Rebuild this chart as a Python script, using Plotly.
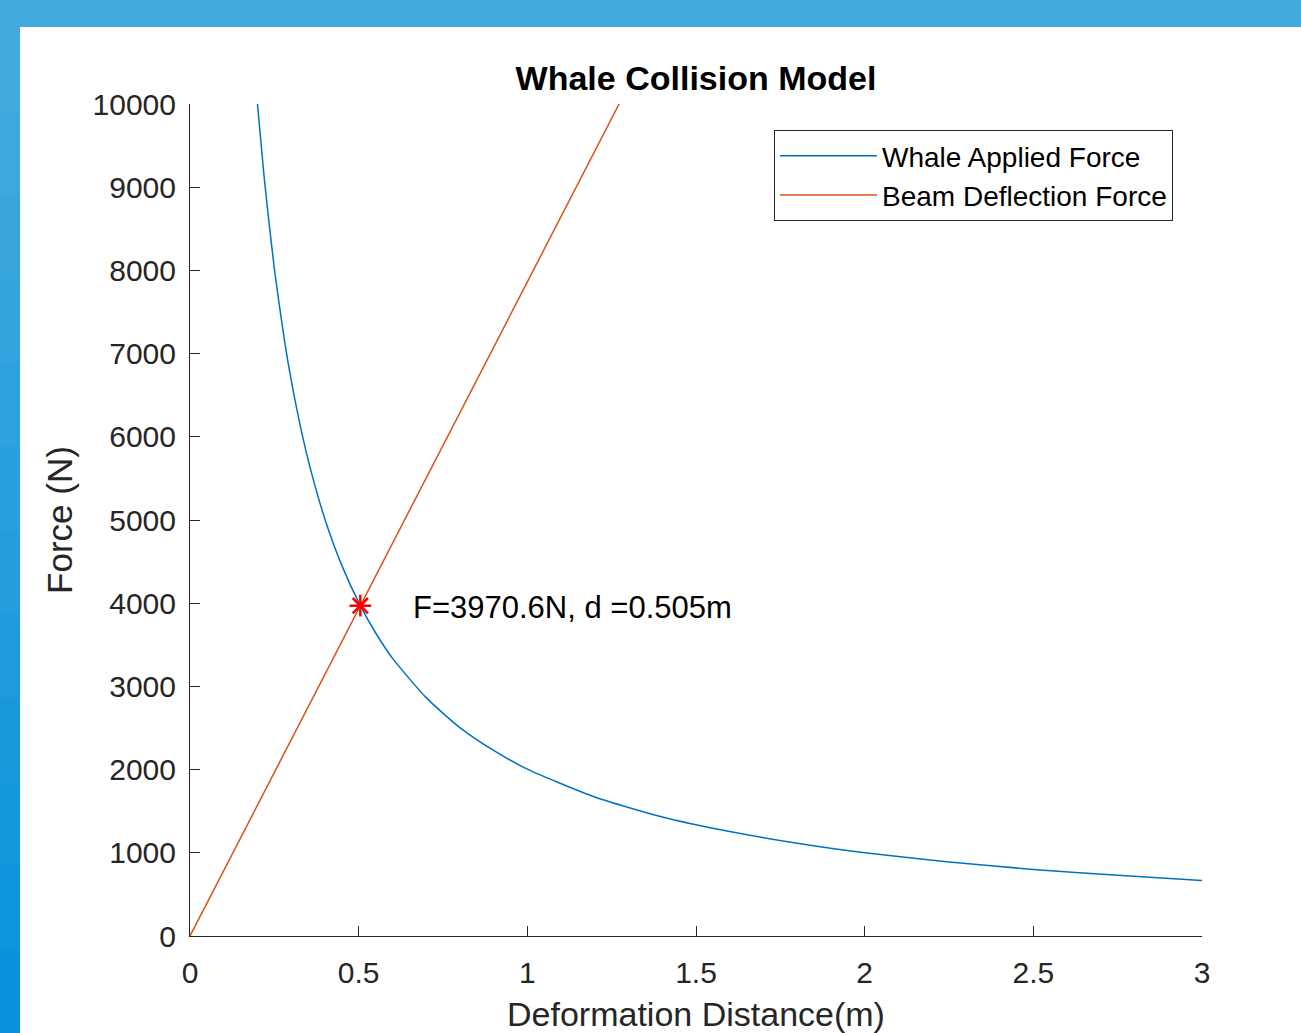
import plotly.graph_objects as go

# Whale Applied Force
whale_d = [0.2, 0.22, 0.25, 0.28, 0.3, 0.33, 0.36, 0.4, 0.45, 0.505, 0.55, 0.6, 0.7, 0.8,
           0.9, 1.0, 1.2, 1.4, 1.6, 1.8, 2.0, 2.25, 2.5, 2.75, 3.0]
whale_f = [10000, 9110, 8020, 7160, 6680, 6075, 5570, 5010, 4455, 3970, 3645, 3340, 2865, 2505,
           2230, 2005, 1670, 1430, 1255, 1115, 1000, 890, 800, 730, 668]

# Beam Deflection Force
beam_d = [0.0, 0.505, 1.272]
beam_f = [0, 3970, 10000]

# Intersection point
pt_d = [0.505]
pt_f = [3970.6]
label_text = "F=3970.6N, d =0.505m"
label_pos = (0.655, 3954)

x_ticks = [0, 0.5, 1, 1.5, 2, 2.5, 3]
x_ticklabels = ["0", "0.5", "1", "1.5", "2", "2.5", "3"]
y_ticks = [0, 1000, 2000, 3000, 4000, 5000, 6000, 7000, 8000, 9000, 10000]
y_ticklabels = [str(v) for v in y_ticks]

FONT = "Liberation Sans, Arial, Helvetica, sans-serif"
AX = "#262626"

fig = go.Figure()
fig.add_trace(go.Scatter(x=whale_d, y=whale_f, mode="lines", name="Whale Applied Force",
                         line=dict(color="#0072BD", width=1.5, shape="spline", smoothing=0.6)))
fig.add_trace(go.Scatter(x=beam_d, y=beam_f, mode="lines", name="Beam Deflection Force",
                         line=dict(color="#D95319", width=1.5)))
fig.add_trace(go.Scatter(x=pt_d, y=pt_f, mode="markers", showlegend=False,
                         marker=dict(symbol="asterisk-open", size=18, color="red",
                                     line=dict(color="red", width=2.5))))

fig.add_annotation(x=label_pos[0], y=label_pos[1], xref="x", yref="y", text=label_text,
                   showarrow=False, xanchor="left", yanchor="middle",
                   font=dict(family=FONT, size=31, color="black"))

# slide frame (blue strips)
W, H = 1301, 1033
L, R, T, B = 190, 99, 104, 97
pw, ph = W - L - R, H - T - B

def px2paper(x, y):
    return (x - L) / pw, (H - B - y) / ph

shapes = []
x0, y0 = px2paper(0, 0)
x1, y1 = px2paper(W, 27)
shapes.append(dict(type="rect", xref="paper", yref="paper", x0=x0, y0=y1, x1=x1, y1=y0,
                   fillcolor="#42AADD", line=dict(width=0), layer="below"))
n = 12
top_c = (0x42, 0xAA, 0xDD)
bot_c = (0x0A, 0x93, 0xDC)
for i in range(n):
    t = i / (n - 1)
    c = tuple(int(round(top_c[k] + (bot_c[k] - top_c[k]) * t)) for k in range(3))
    ya = 27 + (H - 27) * i / n
    yb = 27 + (H - 27) * (i + 1) / n + 1
    a0, b0 = px2paper(0, ya)
    a1, b1 = px2paper(20, yb)
    shapes.append(dict(type="rect", xref="paper", yref="paper", x0=a0, y0=b1, x1=a1, y1=b0,
                       fillcolor="rgb(%d,%d,%d)" % c, line=dict(width=0), layer="below"))

fig.update_layout(
    width=W, height=H,
    margin=dict(l=L, r=R, t=T, b=B, autoexpand=False),
    paper_bgcolor="white", plot_bgcolor="white",
    font=dict(family=FONT, size=30, color=AX),
    shapes=shapes,
    title=dict(text="<b>Whale Collision Model</b>", x=0.5, xref="paper", y=1 - 78 / H,
               yref="container", xanchor="center", yanchor="middle",
               font=dict(family=FONT, size=34, color="black")),
    showlegend=True,
    legend=dict(x=(774 - L) / pw, y=(H - B - 130) / ph, xanchor="left", yanchor="top",
                bordercolor=AX, borderwidth=1, bgcolor="white", itemwidth=97,
                font=dict(family=FONT, size=28, color="black"), tracegroupgap=0),
)
fig.update_xaxes(range=[0, 3], tickvals=x_ticks, ticktext=x_ticklabels, showgrid=False,
                 zeroline=False, showline=True, linecolor=AX, linewidth=1, automargin=False,
                 ticks="inside", ticklen=10, tickcolor=AX, ticklabelstandoff=10,
                 tickfont=dict(family=FONT, size=30, color=AX),
                 title=dict(text="Deformation Distance(m)", standoff=20,
                            font=dict(family=FONT, size=34, color=AX)))
fig.update_yaxes(range=[0, 10000], tickvals=y_ticks, ticktext=y_ticklabels, showgrid=False,
                 zeroline=False, showline=True, linecolor=AX, linewidth=1, automargin=False,
                 ticks="inside", ticklen=10, tickcolor=AX, ticklabelstandoff=7,
                 tickfont=dict(family=FONT, size=30, color=AX),
                 title=dict(text="Force (N)", standoff=9,
                            font=dict(family=FONT, size=35, color=AX)))

fig.write_html("out.html", config={"displayModeBar": False},
               post_script="document.body.style.margin='0';")
